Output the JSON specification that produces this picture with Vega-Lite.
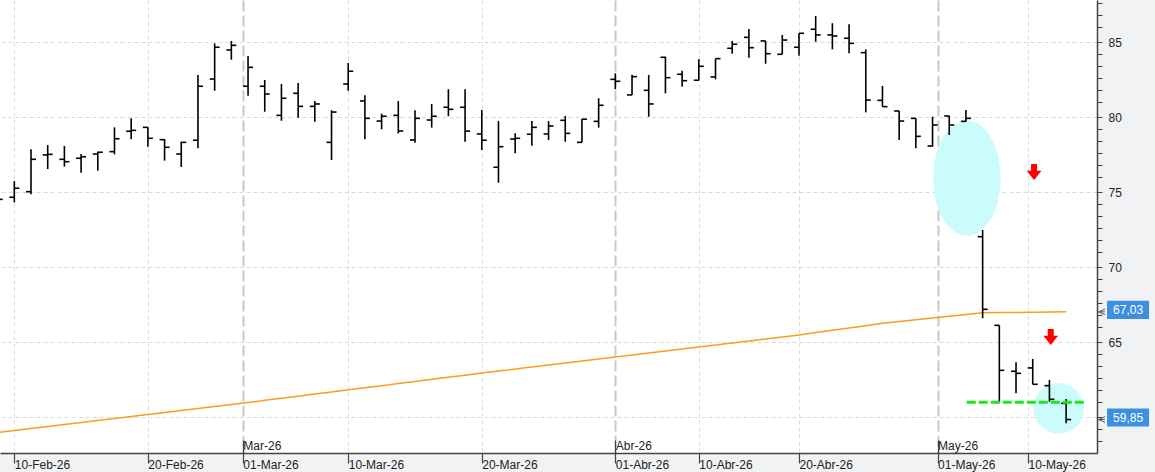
{
  "$schema": "https://vega.github.io/schema/vega-lite/v6.json",
  "width": 1097,
  "height": 453,
  "autosize": {"type": "none"},
  "padding": {"left": 0, "top": 0, "right": 58, "bottom": 19},
  "background": "#f1f2f4",
  "config": {"view": {"fill": "#ffffff", "stroke": null}, "font": "Liberation Sans"},
  "datasets": {
    "ohlc": [
      {"d":"2026-02-09","o":74.8,"h":75.0,"l":74.3,"c":74.53,"s":58.99},
      {"d":"2026-02-10","o":74.67,"h":75.75,"l":74.33,"c":75.27,"s":59.12},
      {"d":"2026-02-11","o":75.04,"h":77.87,"l":74.87,"c":77.2,"s":59.25},
      {"d":"2026-02-12","o":77.49,"h":78.15,"l":76.55,"c":77.53,"s":59.38},
      {"d":"2026-02-13","o":77.2,"h":78.09,"l":76.71,"c":77.04,"s":59.52},
      {"d":"2026-02-16","o":77.27,"h":77.55,"l":76.31,"c":77.37,"s":59.65},
      {"d":"2026-02-17","o":77.55,"h":77.71,"l":76.44,"c":77.67,"s":59.78},
      {"d":"2026-02-18","o":77.71,"h":79.33,"l":77.53,"c":78.57,"s":59.92},
      {"d":"2026-02-19","o":79.07,"h":79.93,"l":78.53,"c":79.13,"s":60.05},
      {"d":"2026-02-20","o":79.33,"h":79.33,"l":78.04,"c":78.6,"s":60.18},
      {"d":"2026-02-23","o":78.51,"h":78.55,"l":77.11,"c":78.0,"s":60.32},
      {"d":"2026-02-24","o":77.55,"h":78.37,"l":76.69,"c":78.33,"s":60.45},
      {"d":"2026-02-25","o":78.47,"h":82.82,"l":77.93,"c":82.07,"s":60.58},
      {"d":"2026-02-26","o":82.55,"h":84.93,"l":81.77,"c":84.67,"s":60.72},
      {"d":"2026-02-27","o":84.49,"h":85.09,"l":83.84,"c":84.8,"s":60.85},
      {"d":"2026-03-02","o":82.07,"h":84.09,"l":81.44,"c":83.33,"s":60.98},
      {"d":"2026-03-03","o":82.07,"h":82.49,"l":80.37,"c":81.55,"s":61.13},
      {"d":"2026-03-04","o":80.13,"h":82.22,"l":79.77,"c":81.27,"s":61.27},
      {"d":"2026-03-05","o":81.6,"h":82.29,"l":79.97,"c":80.73,"s":61.41},
      {"d":"2026-03-06","o":80.73,"h":81.09,"l":79.71,"c":80.89,"s":61.55},
      {"d":"2026-03-09","o":78.33,"h":80.47,"l":77.15,"c":80.35,"s":61.69},
      {"d":"2026-03-10","o":82.22,"h":83.62,"l":81.77,"c":83.07,"s":61.83},
      {"d":"2026-03-11","o":81.09,"h":81.47,"l":78.53,"c":79.93,"s":61.97},
      {"d":"2026-03-12","o":79.75,"h":80.24,"l":79.2,"c":80.07,"s":62.11},
      {"d":"2026-03-13","o":80.13,"h":81.09,"l":78.93,"c":79.09,"s":62.25},
      {"d":"2026-03-16","o":78.49,"h":80.47,"l":78.31,"c":79.93,"s":62.39},
      {"d":"2026-03-17","o":79.82,"h":80.89,"l":79.31,"c":80.07,"s":62.53},
      {"d":"2026-03-18","o":80.67,"h":81.87,"l":80.07,"c":80.53,"s":62.67},
      {"d":"2026-03-19","o":80.67,"h":81.87,"l":78.37,"c":79.08,"s":62.81},
      {"d":"2026-03-20","o":78.89,"h":80.49,"l":77.82,"c":78.47,"s":62.95},
      {"d":"2026-03-23","o":76.67,"h":79.75,"l":75.64,"c":78.04,"s":63.08},
      {"d":"2026-03-24","o":78.55,"h":78.93,"l":77.6,"c":78.6,"s":63.22},
      {"d":"2026-03-25","o":78.87,"h":79.75,"l":78.11,"c":79.33,"s":63.35},
      {"d":"2026-03-26","o":78.89,"h":79.75,"l":78.49,"c":79.42,"s":63.49},
      {"d":"2026-03-27","o":79.8,"h":80.09,"l":78.37,"c":78.93,"s":63.62},
      {"d":"2026-03-30","o":78.33,"h":79.91,"l":78.33,"c":79.87,"s":63.75},
      {"d":"2026-03-31","o":79.73,"h":81.27,"l":79.31,"c":80.8,"s":63.89},
      {"d":"2026-04-01","o":82.53,"h":82.93,"l":81.87,"c":82.4,"s":64.02},
      {"d":"2026-04-02","o":81.49,"h":82.84,"l":81.49,"c":82.71,"s":64.15},
      {"d":"2026-04-07","o":81.8,"h":82.82,"l":80.04,"c":80.89,"s":64.29},
      {"d":"2026-04-08","o":84.0,"h":84.04,"l":81.6,"c":82.64,"s":64.42},
      {"d":"2026-04-09","o":82.87,"h":83.11,"l":82.04,"c":82.44,"s":64.56},
      {"d":"2026-04-10","o":82.47,"h":83.87,"l":82.47,"c":83.4,"s":64.69},
      {"d":"2026-04-13","o":82.69,"h":83.91,"l":82.53,"c":83.91,"s":64.82},
      {"d":"2026-04-14","o":84.6,"h":85.09,"l":84.24,"c":84.87,"s":64.96},
      {"d":"2026-04-15","o":85.33,"h":85.89,"l":83.97,"c":84.64,"s":65.09},
      {"d":"2026-04-16","o":85.09,"h":85.09,"l":83.57,"c":84.24,"s":65.22},
      {"d":"2026-04-17","o":84.2,"h":85.49,"l":84.2,"c":85.15,"s":65.36},
      {"d":"2026-04-20","o":84.67,"h":85.6,"l":84.11,"c":85.6,"s":65.49},
      {"d":"2026-04-21","o":85.87,"h":86.75,"l":85.04,"c":85.49,"s":65.65},
      {"d":"2026-04-22","o":85.49,"h":86.27,"l":84.53,"c":85.42,"s":65.8},
      {"d":"2026-04-23","o":85.27,"h":86.2,"l":84.27,"c":84.93,"s":65.96},
      {"d":"2026-04-24","o":84.31,"h":84.53,"l":80.33,"c":81.15,"s":66.11},
      {"d":"2026-04-27","o":81.13,"h":82.09,"l":80.71,"c":80.71,"s":66.27},
      {"d":"2026-04-28","o":80.42,"h":80.42,"l":78.49,"c":79.75,"s":66.39},
      {"d":"2026-04-29","o":79.93,"h":79.93,"l":77.93,"c":78.73,"s":66.5},
      {"d":"2026-04-30","o":78.09,"h":80.04,"l":78.04,"c":79.49,"s":66.62},
      {"d":"2026-05-04","o":80.09,"h":80.09,"l":78.82,"c":79.49,"s":66.74},
      {"d":"2026-05-05","o":79.73,"h":80.49,"l":79.71,"c":79.93,"s":66.85},
      {"d":"2026-05-06","o":72.04,"h":72.49,"l":66.6,"c":67.2,"s":66.97},
      {"d":"2026-05-07","o":66.13,"h":66.13,"l":61.0,"c":63.13,"s":66.98},
      {"d":"2026-05-08","o":63.07,"h":63.67,"l":61.6,"c":62.93,"s":66.99},
      {"d":"2026-05-11","o":63.29,"h":63.89,"l":62.2,"c":62.2,"s":67.0},
      {"d":"2026-05-12","o":62.11,"h":62.49,"l":61.04,"c":61.2,"s":67.02},
      {"d":"2026-05-13","o":60.93,"h":61.22,"l":59.6,"c":59.85,"s":67.03}
    ]
  },
  "layer": [
    {
      "data": {"values": [{"xi": 59.06, "v": 75.94}]},
      "mark": {"type": "point", "filled": true, "shape": "M 0 -1 C 0.3236 -1 0.586 -0.5523 0.586 0 C 0.586 0.5523 0.3236 1 0 1 C -0.3236 1 -0.586 0.5523 -0.586 0 C -0.586 -0.5523 -0.3236 -1 0 -1 Z", "size": 13225, "color": "#ccfbfc", "opacity": 1, "strokeWidth": 0},
      "encoding": {
        "x": {"field": "xi", "type": "quantitative", "scale": {"domain": [1.143, 66.85], "nice": false, "zero": false},
          "axis": {"orient": "bottom", "offset": -13, "title": null, "values": [15.69, 38, 57.3],
            "labelExpr": "datum.value < 20 ? 'Mar-26' : datum.value < 40 ? 'Abr-26' : 'May-26'",
            "domain": false, "grid": false, "ticks": true, "tickSize": 13, "tickColor": "#444444", "tickWidth": 1.2,
            "labelAlign": "left", "labelDx": 2, "labelBaseline": "middle", "labelPadding": -8,
            "labelFontSize": 12, "labelColor": "#222222", "labelFlush": false, "labelOverlap": false}},
        "y": {"field": "v", "type": "quantitative", "scale": {"domain": [57.62, 87.82], "nice": false, "zero": false},
          "axis": {"orient": "right", "title": null,
            "values": [87.6, 86.8, 86, 85, 84.2, 83.4, 82.6, 81.8, 81, 80, 79.2, 78.4, 77.6, 76.8, 76, 75, 74.2, 73.4, 72.6, 71.8, 71, 70, 69.2, 68.4, 67.6, 66.8, 66, 65, 64.2, 63.4, 62.6, 61.8, 61, 60, 59.2, 58.4],
            "labelExpr": "abs(datum.value - round(datum.value/5)*5) < 0.01 && datum.value > 62 ? format(datum.value, 'd') : ''",
            "domainColor": "#444444", "domainWidth": 1.5, "tickColor": "#444444", "tickSize": 5, "tickWidth": 1,
            "labelPadding": 6, "labelFontSize": 12, "labelColor": "#222222", "labelOverlap": false, "labelFlush": false,
            "grid": true, "gridColor": "#d9d9d9", "gridDash": [4, 3], "gridWidth": 1,
            "gridOpacity": {"condition": {"test": "abs(datum.value - round(datum.value/5)*5) > 0.01", "value": 0}, "value": 1}}}
      }
    },
    {
      "data": {"values": [{"xi": 64.56, "v": 60.6}]},
      "mark": {"type": "point", "filled": true, "shape": "circle", "size": 2550, "color": "#ccfbfc", "opacity": 1, "strokeWidth": 0},
      "encoding": {
        "x": {"field": "xi", "type": "quantitative", "axis": null},
        "y": {"field": "v", "type": "quantitative", "axis": null}
      }
    },
    {
      "data": {"name": "ohlc"},
      "transform": [{"window": [{"op": "row_number", "as": "rn"}]}],
      "mark": {"type": "line", "color": "#f7a01e", "strokeWidth": 1.5, "interpolate": "linear"},
      "encoding": {
        "x": {"field": "rn", "type": "quantitative", "axis": null},
        "y": {"field": "s", "type": "quantitative", "axis": null}
      }
    },
    {
      "data": {"name": "ohlc"},
      "transform": [{"window": [{"op": "row_number", "as": "rn"}]}],
      "mark": {"type": "rule", "color": "#000000", "strokeWidth": 1.6},
      "encoding": {
        "x": {"field": "rn", "type": "quantitative",
          "axis": {"orient": "bottom", "title": null,
            "values": [2, 10, 15.69, 22, 30, 38, 43, 49, 57.3, 62.72],
            "labelExpr": "datum.value < 3 ? '10-Feb-26' : datum.value < 12 ? '20-Feb-26' : datum.value < 18 ? '01-Mar-26' : datum.value < 25 ? '10-Mar-26' : datum.value < 33 ? '20-Mar-26' : datum.value < 40 ? '01-Abr-26' : datum.value < 45 ? '10-Abr-26' : datum.value < 52 ? '20-Abr-26' : datum.value < 60 ? '01-May-26' : '10-May-26'",
            "domainColor": "#444444", "domainWidth": 1.5, "tickColor": "#444444", "tickSize": 10, "tickWidth": 1.2,
            "labelAlign": "left", "labelDx": 2, "labelBaseline": "middle", "labelPadding": 1,
            "labelFontSize": 12, "labelColor": "#222222", "labelFlush": false, "labelOverlap": false,
            "grid": true,
            "gridColor": {"condition": {"test": "datum.value == 15.69 || datum.value == 38 || datum.value == 57.3", "value": "#c9c9c9"}, "value": "#dcdcdc"},
            "gridDash": {"condition": {"test": "datum.value == 15.69 || datum.value == 38 || datum.value == 57.3", "value": [11, 4]}, "value": [4, 3]},
            "gridWidth": {"condition": {"test": "datum.value == 15.69 || datum.value == 38 || datum.value == 57.3", "value": 2}, "value": 1}}},
        "y": {"field": "l", "type": "quantitative", "axis": null},
        "y2": {"field": "h"}
      }
    },
    {
      "data": {"name": "ohlc"},
      "transform": [{"window": [{"op": "row_number", "as": "rn"}]}],
      "mark": {"type": "rule", "color": "#000000", "strokeWidth": 1.6, "xOffset": -5},
      "encoding": {
        "x": {"field": "rn", "type": "quantitative", "axis": null},
        "x2": {"field": "rn"},
        "y": {"field": "o", "type": "quantitative", "axis": null}
      }
    },
    {
      "data": {"name": "ohlc"},
      "transform": [{"window": [{"op": "row_number", "as": "rn"}]}],
      "mark": {"type": "rule", "color": "#000000", "strokeWidth": 1.6, "x2Offset": 5},
      "encoding": {
        "x": {"field": "rn", "type": "quantitative", "axis": null},
        "x2": {"field": "rn"},
        "y": {"field": "c", "type": "quantitative", "axis": null}
      }
    },
    {
      "data": {"values": [{"x1": 59.05, "x2": 66.07, "v": 61.0}]},
      "mark": {"type": "rule", "color": "#1ee61e", "strokeWidth": 3, "strokeDash": [9, 3]},
      "encoding": {
        "x": {"field": "x1", "type": "quantitative", "axis": null},
        "x2": {"field": "x2"},
        "y": {"field": "v", "type": "quantitative", "axis": null}
      }
    },
    {
      "data": {"values": [{"xi": 63.08, "v": 76.35}, {"xi": 64.08, "v": 65.35}]},
      "mark": {"type": "point", "filled": true, "shape": "M -0.375 -1 L 0.375 -1 L 0.375 -0.16 L 0.92 -0.16 L 0 1 L -0.92 -0.16 L -0.375 -0.16 Z", "size": 256, "color": "#ff0000", "opacity": 1, "strokeWidth": 0},
      "encoding": {
        "x": {"field": "xi", "type": "quantitative", "axis": null},
        "y": {"field": "v", "type": "quantitative", "axis": null}
      }
    },
    {
      "data": {"values": [{"v": 67.03, "t": "67,03"}, {"v": 59.85, "t": "59,85"}]},
      "mark": {"type": "point", "filled": true, "shape": "M -1 -0.43 L 1 -0.43 L 1 0.43 L -1 0.43 Z", "size": 1764, "color": "#3d8fe0", "opacity": 1, "strokeWidth": 0, "yOffset": -2},
      "encoding": {
        "x": {"datum": 68.71, "type": "quantitative", "axis": null},
        "y": {"field": "v", "type": "quantitative", "axis": null}
      }
    },
    {
      "data": {"values": [{"v": 67.03, "t": "67,03"}, {"v": 59.85, "t": "59,85"}]},
      "mark": {"type": "point", "filled": false, "shape": "M 1 -0.7 L -0.6 0 L 1 0.7 M -0.6 0 L 1 0", "size": 64, "color": "#555555", "opacity": 1, "strokeWidth": 1},
      "encoding": {
        "x": {"datum": 67.09, "type": "quantitative", "axis": null},
        "y": {"field": "v", "type": "quantitative", "axis": null}
      }
    },
    {
      "data": {"values": [{"v": 67.03, "t": "67,03"}, {"v": 59.85, "t": "59,85"}]},
      "mark": {"type": "text", "color": "#ffffff", "fontSize": 12, "align": "center", "baseline": "middle", "yOffset": -2},
      "encoding": {
        "x": {"datum": 68.71, "type": "quantitative", "axis": null},
        "y": {"field": "v", "type": "quantitative", "axis": null},
        "text": {"field": "t"}
      }
    }
  ],
  "resolve": {"axis": {"x": "independent", "y": "independent"}}
}
